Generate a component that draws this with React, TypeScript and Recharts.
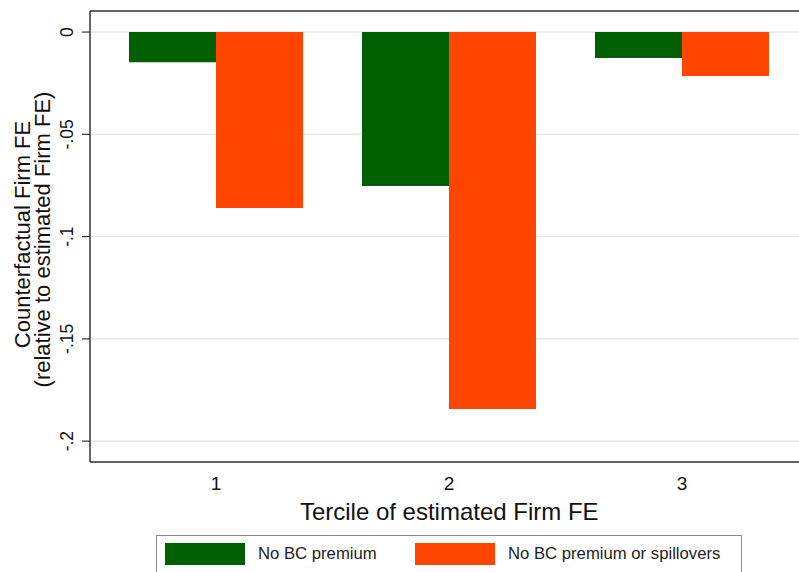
import { BarChart, Bar, XAxis, YAxis, CartesianGrid, Legend, ReferenceLine } from 'recharts';

const terciles = ['1', '2', '3'];
const noPremium = [-0.0147, -0.0753, -0.0127];
const noPremiumNoSpill = [-0.086, -0.1843, -0.0215];
const yTicks = [0, -0.05, -0.1, -0.15, -0.2];
const yTickLabels = ['0', '-.05', '-.1', '-.15', '-.2'];
const yDomain: [number, number] = [-0.2102, 0.0103];

const data = terciles.map((t, i) => ({
  tercile: t,
  noPremium: noPremium[i],
  noPremiumNoSpill: noPremiumNoSpill[i],
}));

const FONT = '"Liberation Sans", Arial, Helvetica, sans-serif';
const GREEN = '#006000';
const ORANGE = '#ff4500';

function YTick(props: any) {
  const { x, y, payload } = props;
  const label = yTickLabels[yTicks.indexOf(payload.value)] ?? String(payload.value);
  return (
    <text x={x} y={y} transform={`rotate(-90 ${x} ${y})`} textAnchor="middle" fontSize={17.5} fill="#111" fontFamily={FONT}>
      {label}
    </text>
  );
}

function YTitle(props: any) {
  const vb = props.viewBox || {};
  const cy = (vb.y ?? 11) + (vb.height ?? 451) / 2;
  return (
    <g fontFamily={FONT} fontSize={22} fill="#111">
      <text x={30} y={cy - 2} transform={`rotate(-90 30 ${cy - 2})`} textAnchor="middle">
        Counterfactual Firm FE
      </text>
      <text x={49.5} y={cy + 3} transform={`rotate(-90 49.5 ${cy + 3})`} textAnchor="middle">
        (relative to estimated Firm FE)
      </text>
    </g>
  );
}

function LegendBox(props: any) {
  const items = props.payload || [];
  const swatchLeft = [8, 258];
  const textLeft = [101, 351];
  return (
    <div
      style={{
        position: 'relative',
        width: 586,
        height: 44,
        border: '1.5px solid #8c8c8c',
        boxSizing: 'border-box',
        fontFamily: FONT,
        fontSize: 16.7,
        color: '#222',
      }}
    >
      {items.map((it: any, i: number) => (
        <div key={it.value}>
          <div style={{ position: 'absolute', left: swatchLeft[i], top: 7, width: 80, height: 22, background: it.color }} />
          <div style={{ position: 'absolute', left: textLeft[i], top: 7, height: 22, lineHeight: '22px', whiteSpace: 'nowrap' }}>
            {it.value}
          </div>
        </div>
      ))}
    </div>
  );
}

export default function App() {
  return (
    <div style={{ position: 'fixed', left: 0, top: 0, width: 799, height: 572, overflow: 'hidden', background: '#fff' }}>
      <BarChart
        width={820}
        height={572}
        data={data}
        margin={{ top: 11, right: 11.5, left: 0, bottom: 0 }}
        barCategoryGap={29.5}
        barGap={0}
      >
        <CartesianGrid vertical={false} stroke="#e6e6e6" strokeWidth={1.5} />
        <XAxis
          dataKey="tercile"
          height={110}
          padding={{ left: 9.5, right: 10 }}
          tickLine={false}
          tickSize={8}
          tickMargin={6.5}
          axisLine={{ stroke: '#333', strokeWidth: 1.5 }}
          tick={{ fontSize: 19, fill: '#111', fontFamily: FONT }}
          label={{ value: 'Tercile of estimated Firm FE', position: 'insideBottom', offset: 52, fontSize: 24, fill: '#111', fontFamily: FONT }}
        />
        <YAxis
          width={90}
          domain={yDomain}
          ticks={yTicks}
          interval={0}
          tickSize={8}
          tickMargin={9}
          tickLine={{ stroke: '#333', strokeWidth: 1.2 }}
          axisLine={{ stroke: '#333', strokeWidth: 1.5 }}
          tick={<YTick />}
          label={<YTitle />}
        />
        <ReferenceLine y={yDomain[1]} stroke="#666" strokeWidth={2} />
        <Legend
          verticalAlign="middle"
          align="center"
          layout="horizontal"
          wrapperStyle={{ left: 156, top: 535, width: 586, height: 44 }}
          content={<LegendBox />}
        />
        <Bar dataKey="noPremium" name="No BC premium" fill={GREEN} isAnimationActive={false} />
        <Bar dataKey="noPremiumNoSpill" name="No BC premium or spillovers" fill={ORANGE} isAnimationActive={false} />
      </BarChart>
    </div>
  );
}
